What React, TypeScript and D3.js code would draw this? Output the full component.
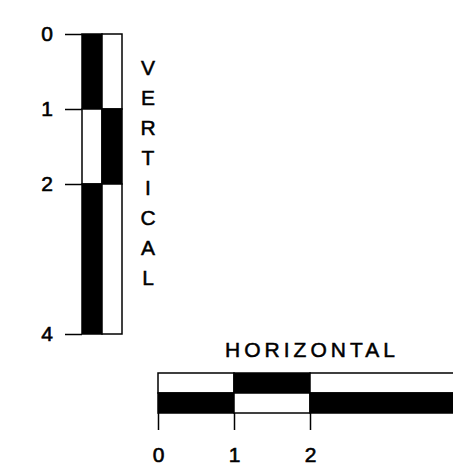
import React, { useEffect, useRef } from "react";
import * as d3 from "d3";

// segment boundaries along each bar, and which lane is filled black in each segment
const breaks = [0, 1, 2, 4];
const tickValues = [0, 1, 2, 4];
const verticalBlackLane = [0, 1, 0]; // 0 = left lane, 1 = right lane
const horizontalBlackLane = [1, 0, 1]; // 0 = top lane, 1 = bottom lane
const lanes = [0, 1];
const verticalTitle = "VERTICAL";
const horizontalTitle = "HORIZONTAL";

const FONT = "'Liberation Sans', Arial, sans-serif";

const App = () => {
  const ref = useRef<SVGSVGElement>(null);

  useEffect(() => {
    const svg = d3.select(ref.current);
    svg.selectAll("*").remove();

    const width = 453;
    const height = 465;
    svg.attr("width", width).attr("height", height);

    const segments = breaks.slice(0, -1).map((b, i) => ({
      start: b,
      end: breaks[i + 1],
      vBlack: verticalBlackLane[i],
      hBlack: horizontalBlackLane[i],
    }));

    // ---- Vertical bar ----
    const yV = d3.scaleLinear().domain([0, 4]).range([34, 334]);
    const xLane = d3.scaleBand<number>().domain(lanes).range([82, 122]).padding(0);

    const gv = svg.append("g");
    segments.forEach(s => {
      lanes.forEach(l => {
        gv.append("rect")
          .attr("x", xLane(l)!)
          .attr("y", yV(s.start))
          .attr("width", xLane.bandwidth())
          .attr("height", yV(s.end) - yV(s.start))
          .attr("fill", l === s.vBlack ? "#000" : "#fff")
          .attr("stroke", "#000")
          .attr("stroke-width", 1.5);
      });
    });

    const axisV = svg.append("g")
      .attr("transform", "translate(82,0)")
      .call(d3.axisLeft(yV).tickValues(tickValues).tickFormat(d3.format("d")).tickSizeInner(17).tickSizeOuter(0).tickPadding(12));
    axisV.select(".domain").remove();
    axisV.selectAll("line").attr("stroke", "#000").attr("stroke-width", 1.5);
    axisV.selectAll("text")
      .attr("font-size", 21)
      .attr("font-family", FONT)
      .attr("fill", "#000")
      .attr("stroke", "#000")
      .attr("stroke-width", 0.6);

    const letterY = d3.scalePoint<number>()
      .domain(d3.range(verticalTitle.length))
      .range([67, 277]);
    svg.append("g")
      .selectAll("text")
      .data(verticalTitle.split(""))
      .enter()
      .append("text")
      .attr("x", 148)
      .attr("y", (_, i) => letterY(i)!)
      .attr("dy", "0.36em")
      .attr("text-anchor", "middle")
      .attr("font-size", 21)
      .attr("font-family", FONT)
      .attr("fill", "#000")
      .attr("stroke", "#000")
      .attr("stroke-width", 0.5)
      .text(d => d);

    // ---- Horizontal bar ----
    const xH = d3.scaleLinear().domain([0, 4]).range([158, 462]);
    const yLane = d3.scaleBand<number>().domain(lanes).range([373, 413]).padding(0);

    const gh = svg.append("g");
    segments.forEach(s => {
      lanes.forEach(l => {
        gh.append("rect")
          .attr("x", xH(s.start))
          .attr("y", yLane(l)!)
          .attr("width", xH(s.end) - xH(s.start))
          .attr("height", yLane.bandwidth())
          .attr("fill", l === s.hBlack ? "#000" : "#fff")
          .attr("stroke", "#000")
          .attr("stroke-width", 1.5);
      });
    });

    const axisH = svg.append("g")
      .attr("transform", "translate(0,413)")
      .call(d3.axisBottom(xH).tickValues(tickValues).tickFormat(d3.format("d")).tickSizeInner(17).tickSizeOuter(0).tickPadding(17));
    axisH.select(".domain").remove();
    axisH.selectAll("line").attr("stroke", "#000").attr("stroke-width", 1.5);
    axisH.selectAll("text")
      .attr("font-size", 21)
      .attr("font-family", FONT)
      .attr("fill", "#000")
      .attr("stroke", "#000")
      .attr("stroke-width", 0.6);

    svg.append("text")
      .attr("x", 312)
      .attr("y", 357)
      .attr("text-anchor", "middle")
      .attr("font-size", 21)
      .attr("letter-spacing", 4)
      .attr("font-family", FONT)
      .attr("fill", "#000")
      .attr("stroke", "#000")
      .attr("stroke-width", 0.5)
      .text(horizontalTitle);
  }, []);

  return <svg ref={ref} style={{ position: "absolute", left: 0, top: 0, background: "#fff" }}></svg>;
};

export default App;
